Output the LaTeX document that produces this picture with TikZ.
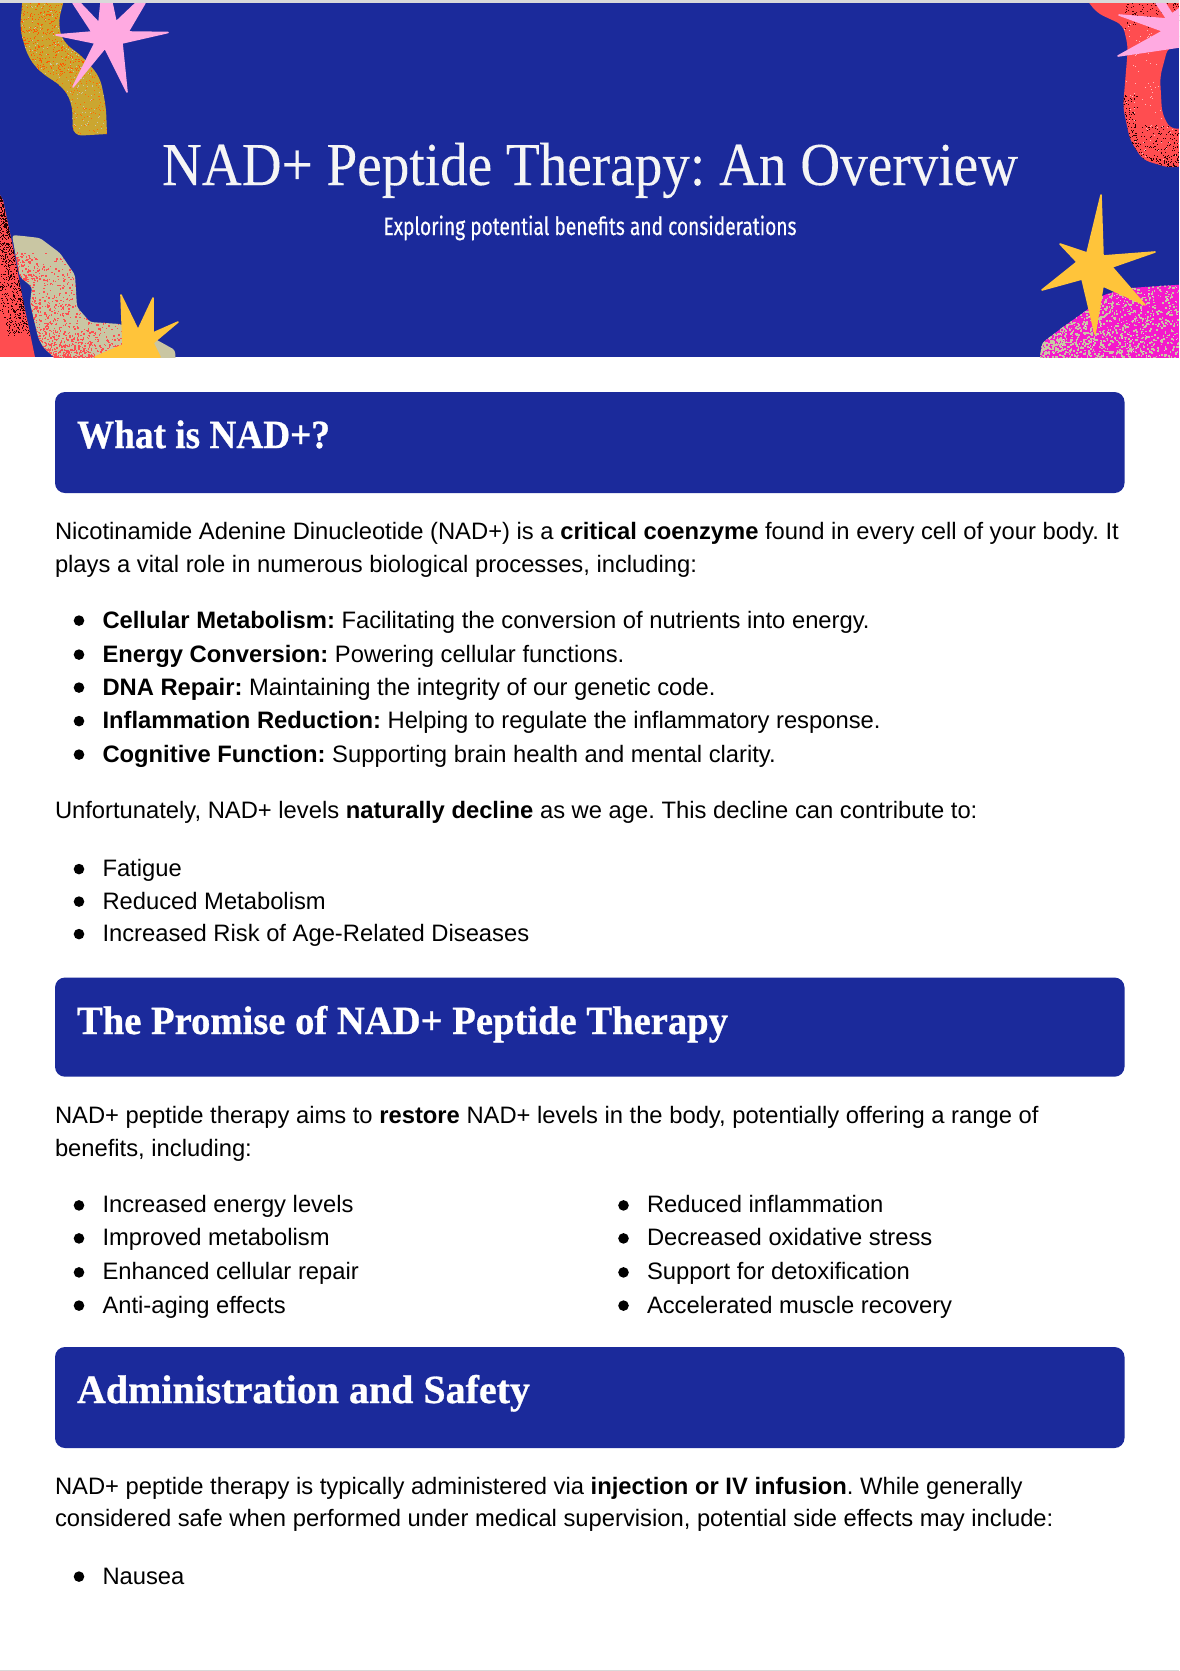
\documentclass[tikz,border=0pt]{standalone}
\usepackage{fontspec}
\usepackage{graphicx}
\setmainfont{Liberation Sans}
\newfontfamily\serifhead[BoldFeatures={FakeBold=0.7}]{Liberation Serif}
\newfontfamily\titlefont[FakeBold=0.15]{Liberation Serif}
\newfontfamily\subfont[FakeBold=0.45]{Fira Sans}
\definecolor{navy}{HTML}{1B2A9B}
\definecolor{pinkstar}{HTML}{FFAAE1}
\definecolor{yellowstar}{HTML}{FFC43A}
\definecolor{ochre}{HTML}{CBA630}
\definecolor{coral}{HTML}{FF4D50}
\definecolor{beige}{HTML}{C9C6A3}
\definecolor{magentablob}{HTML}{F519CC}
\definecolor{edgegrey}{HTML}{D9D9D9}
\newcommand{\grain}[9]{%
  \foreach \gi in {1,...,#2}{%
    \pgfmathsetmacro{\gx}{#3+(#5)*pow(rnd,#7)}%
    \pgfmathsetmacro{\gy}{#4+(#6)*pow(rnd,#8)}%
    \fill[#1] (\gx,\gy) rectangle ++(#9,#9);
  }}
\tikzset{
  x=1pt,y=-1pt,
  body/.style={anchor=base west,inner sep=0pt,outer sep=0pt,text=black,font=\fontsize{23.77}{28}\selectfont},
  dotm/.style={circle,fill=black,inner sep=0pt,minimum size=10.6pt},
  headbar/.style={fill=navy,rounded corners=10pt},
  headtext/.style={anchor=base west,inner sep=0pt,outer sep=0pt,text=white,font=\serifhead\bfseries\fontsize{40}{44}\selectfont},
  starshape/.style={line join=round,line width=1.6pt}
}
\newcommand{\bitem}[5]{% name, x dot, x text, y baseline, text
  \node[dotm] (#1d) at (#2,#4-7.4) {};
  \node[body] (#1) at (#3,#4) {#5};
}
\frenchspacing
\begin{document}
\begin{tikzpicture}
\useasboundingbox (0,0) rectangle (1179,1671);
\fill[white] (0,0) rectangle (1179,1671);
\fill[edgegrey] (0,0) rectangle (1179,3);
\fill[edgegrey] (0,1669.5) rectangle (1179,1671);
\fill[navy] (0,3) rectangle (1179,357);
\pgfmathsetseed{4217}
\begin{scope}
\clip (0,3) rectangle (1179,357);
% top-left ochre blob
\begin{scope}
\clip[rounded corners=9pt] (23,-8) -- (20,30) -- (28,57) -- (40,72) -- (63,87) -- (72,103) -- (73,136) [sharp corners] -- (107,134) [rounded corners=9pt] -- (106,107) -- (100,77) -- (83,57) -- (63,42) -- (58,23) -- (66,-8) -- cycle;
\fill[ochre] (0,0) rectangle (130,140);
\grain{orange!70!red}{700}{20}{3}{90}{70}{1}{1}{1.1}
\grain{orange!85!red}{300}{20}{70}{90}{66}{1}{1}{1}
\grain{beige}{300}{20}{3}{90}{132}{1}{1}{1}
\end{scope}
% top-left pink star
\fill[pinkstar,draw=pinkstar,starshape] (101,3) -- (112,3) -- (116,22) -- (136,3) -- (145,3) -- (128,32) -- (168,32.5) -- (122,43) -- (127,92) -- (105,48) -- (73,87) -- (95,43) -- (56,35) -- (92,32) -- (73,3) -- (80,3) -- (99,23) -- cycle;
% bottom-left red wedge
\begin{scope}
\clip (0,195) -- (3,200) -- (13,247) -- (23,300) -- (35,357) -- (0,357) -- cycle;
\fill[coral] (0,190) rectangle (40,357);
\foreach \gi in {1,...,1100}{%
  \pgfmathsetmacro{\gy}{195+140*pow(rnd,1.2)}%
  \pgfmathsetmacro{\gx}{(\gy-195)*0.2165+1-26*pow(rnd,1.8)}%
  \fill[black!85!red] (\gx,\gy) rectangle ++(1,1);
}
\end{scope}
% bottom-left beige blob
\begin{scope}
\clip[rounded corners=3pt] (12,235) -- (23,236) -- (40,238) -- (60,253) -- (75,275) -- (77,307) -- (90,322) -- (120,324) -- (157,340) -- (175,350) -- (176,365) -- (62,365) -- (43,347) -- (38,337) -- (30,303) -- (32,287) -- (20,277) -- (17,263) -- cycle;
\fill[beige] (0,230) rectangle (180,365);
\grain{coral}{1900}{15}{357}{130}{-105}{1.8}{1.9}{1.4}
\end{scope}
% bottom-left yellow star
\fill[yellowstar,draw=yellowstar,starshape] (95,357) -- (123,345) -- (121,295) -- (138,330) -- (153,298) -- (153,333) -- (178,322) -- (153,343) -- (160,357) -- cycle;
% top-right red blob
\begin{scope}
\clip[rounded corners=7pt] (1083,-5) -- (1097,13) -- (1123,25) -- (1128,47) -- (1125,83) -- (1123,107) -- (1130,140) -- (1143,160) -- (1170,168) -- (1190,165) -- (1190,128) -- (1170,129) -- (1162,113) -- (1160,77) -- (1168,47) -- (1190,43) -- (1190,-5) -- cycle;
\fill[coral] (1080,0) rectangle (1179,170);
\grain{black!85!red}{450}{1122}{170}{57}{-45}{1}{2}{1}
\grain{black!85!red}{150}{1122}{95}{16}{60}{1.6}{1}{1}
\grain{black!70!red}{120}{1125}{3}{54}{25}{1}{1.5}{1}
\grain{white!60!coral}{120}{1122}{20}{57}{140}{1}{1}{1}
\end{scope}
% top-right pink star
\fill[pinkstar,draw=pinkstar,starshape] (1179,9) -- (1172,14) -- (1165,3) -- (1156,3) -- (1167,19) -- (1119,15) -- (1163,31) -- (1118,56) -- (1179,47) -- cycle;
% bottom-right magenta blob
\begin{scope}
\clip[rounded corners=4pt] (1039,365) -- (1042,343) -- (1063,327) -- (1087,310) -- (1103,295) -- (1130,288) -- (1190,284) -- (1190,365) -- cycle;
\fill[magentablob] (1030,280) rectangle (1179,365);
\grain{beige}{2000}{1038}{283}{141}{74}{2.3}{0.9}{1.6}
\grain{white!70!magentablob}{80}{1038}{283}{141}{74}{1}{1}{1}
\end{scope}
% bottom-right yellow star
\fill[yellowstar,draw=yellowstar,starshape] (1101,195) -- (1103,256) -- (1155,252) -- (1112,267) -- (1145,305) -- (1103,286) -- (1095,334) -- (1082,279) -- (1042,290) -- (1077,262) -- (1060,244) -- (1087,253) -- cycle;
\end{scope}
% header text
\node[anchor=base,inner sep=0pt,text=white!96!black,font=\titlefont\fontsize{61}{66}\selectfont] (title) at (590,185) {\resizebox{856pt}{\height}{NAD+ Peptide Therapy: An Overview}};
\node[anchor=base,inner sep=0pt,text=white,font=\subfont\fontsize{25}{30}\selectfont] (subtitle) at (590,235) {\resizebox{413pt}{\height}{Exploring potential benefits and considerations}};
% section bars
\fill[headbar] (55,392) rectangle (1124.5,493);
\fill[headbar] (55,977.5) rectangle (1124.5,1076.7);
\fill[headbar] (55,1347) rectangle (1124.5,1448);
\node[headtext] (h1) at (77,448) {\resizebox{253pt}{\height}{What is NAD+?}};
\node[headtext] (h2) at (77,1034) {\resizebox{651pt}{\height}{The Promise of NAD+ Peptide Therapy}};
\node[headtext] (h3) at (77,1403) {\resizebox{453pt}{\height}{Administration and Safety}};
% section 1
\node[body] (p1a) at (55,539) {Nicotinamide Adenine Dinucleotide (NAD+) is a \textbf{critical coenzyme} found in every cell of your body. It};
\node[body] (p1b) at (55,572) {plays a vital role in numerous biological processes, including:};
\bitem{a1}{79}{102.5}{628}{\textbf{Cellular Metabolism:} Facilitating the conversion of nutrients into energy.}
\bitem{a2}{79}{102.5}{662}{\textbf{Energy Conversion:} Powering cellular functions.}
\bitem{a3}{79}{102.5}{695}{\textbf{DNA Repair:} Maintaining the integrity of our genetic code.}
\bitem{a4}{79}{102.5}{728.5}{\textbf{Inflammation Reduction:} Helping to regulate the inflammatory response.}
\bitem{a5}{79}{102.5}{762}{\textbf{Cognitive Function:} Supporting brain health and mental clarity.}
\node[body] (p2) at (55,818) {Unfortunately, NAD+ levels \textbf{naturally decline} as we age. This decline can contribute to:};
\bitem{b1}{79}{102.5}{876.5}{Fatigue}
\bitem{b2}{79}{102.5}{909}{Reduced Metabolism}
\bitem{b3}{79}{102.5}{941.5}{Increased Risk of Age-Related Diseases}
% section 2
\node[body] (p3a) at (55,1123) {NAD+ peptide therapy aims to \textbf{restore} NAD+ levels in the body, potentially offering a range of};
\node[body] (p3b) at (55,1156) {benefits, including:};
\bitem{c1}{79}{102.5}{1212.8}{Increased energy levels}
\bitem{c2}{79}{102.5}{1245.8}{Improved metabolism}
\bitem{c3}{79}{102.5}{1279.8}{Enhanced cellular repair}
\bitem{c4}{79}{102.5}{1313}{Anti-aging effects}
\bitem{d1}{623.5}{647}{1212.8}{Reduced inflammation}
\bitem{d2}{623.5}{647}{1245.8}{Decreased oxidative stress}
\bitem{d3}{623.5}{647}{1279.8}{Support for detoxification}
\bitem{d4}{623.5}{647}{1313}{Accelerated muscle recovery}
% section 3
\node[body] (p4a) at (55,1494) {NAD+ peptide therapy is typically administered via \textbf{injection or IV infusion}. While generally};
\node[body] (p4b) at (55,1526) {considered safe when performed under medical supervision, potential side effects may include:};
\bitem{e1}{79}{102.5}{1584}{Nausea}
\end{tikzpicture}
\end{document}
